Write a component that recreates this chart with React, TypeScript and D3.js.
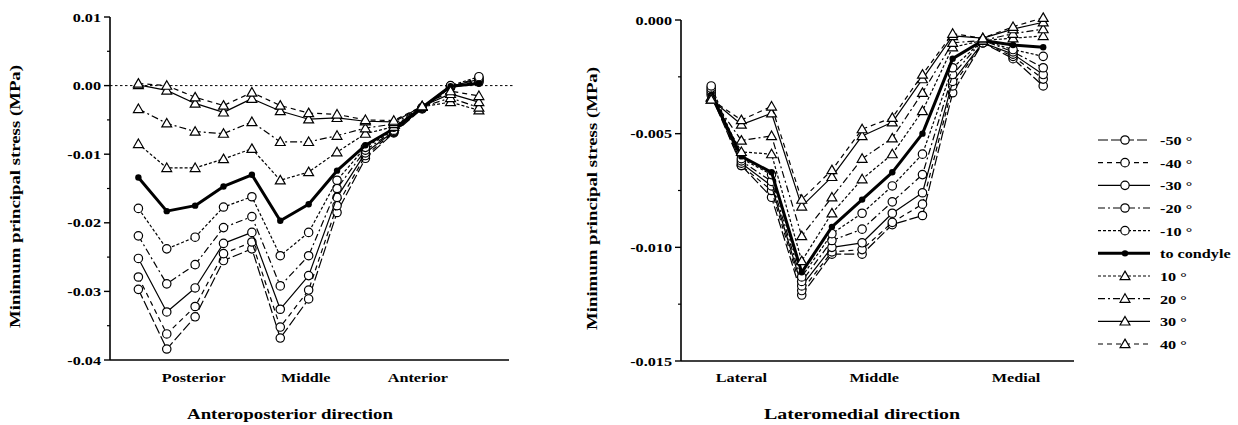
import React from "react";
import * as d3 from "d3";

// ---- data (MPa) ----
const angleKeys = ["-50", "-40", "-30", "-20", "-10", "cond", "10", "20", "30", "40"];
const legendLabels = ["-50 °", "-40 °", "-30 °", "-20 °", "-10 °", "to condyle", "10 °", "20 °", "30 °", "40 °"];

// anteroposterior direction, 13 sample points
const apM50 = [-0.0297, -0.0384, -0.0337, -0.0255, -0.0238, -0.0368, -0.0311, -0.0185, -0.0106, -0.0069, -0.0034, -0.0003, 0.0005];
const apM40 = [-0.0279, -0.0362, -0.0322, -0.0245, -0.0228, -0.0352, -0.0298, -0.0175, -0.0102, -0.0068, -0.0033, -0.0002, 0.0007];
const apM30 = [-0.0252, -0.033, -0.0295, -0.023, -0.0214, -0.0326, -0.0277, -0.0163, -0.0098, -0.0067, -0.0033, -0.0001, 0.0009];
const apM20 = [-0.0219, -0.0289, -0.0261, -0.0207, -0.0191, -0.0292, -0.0248, -0.015, -0.0094, -0.0066, -0.0032, -0.0001, 0.0011];
const apM10 = [-0.0179, -0.0238, -0.0221, -0.0177, -0.0162, -0.0248, -0.0214, -0.0138, -0.009, -0.0065, -0.0032, 0.0, 0.0013];
const apCond = [-0.0134, -0.0183, -0.0175, -0.0147, -0.013, -0.0197, -0.0173, -0.0124, -0.0087, -0.0063, -0.0032, -0.0001, 0.0003];
const apP10 = [-0.0085, -0.012, -0.012, -0.0107, -0.0092, -0.0138, -0.0126, -0.0097, -0.007, -0.006, -0.0031, -0.0024, -0.0036];
const apP20 = [-0.0034, -0.0055, -0.0067, -0.007, -0.0053, -0.0082, -0.0082, -0.0073, -0.0062, -0.0056, -0.0031, -0.0018, -0.0032];
const apP30 = [0.0001, -0.0007, -0.0026, -0.0039, -0.0019, -0.0037, -0.0049, -0.0047, -0.0052, -0.0053, -0.003, -0.0012, -0.0024];
const apP40 = [0.0003, 0.0, -0.0017, -0.0029, -0.001, -0.0029, -0.004, -0.0042, -0.005, -0.0051, -0.003, -0.0008, -0.0015];

// lateromedial direction, 12 sample points
const lmM50 = [-0.0033, -0.0064, -0.0078, -0.0121, -0.0103, -0.0103, -0.009, -0.0086, -0.0032, -0.001, -0.0017, -0.0029];
const lmM40 = [-0.0032, -0.0064, -0.0075, -0.0119, -0.0102, -0.0101, -0.0089, -0.0081, -0.0029, -0.001, -0.0016, -0.0026];
const lmM30 = [-0.0031, -0.0063, -0.0073, -0.0117, -0.01, -0.0098, -0.0085, -0.0076, -0.0027, -0.001, -0.0015, -0.0024];
const lmM20 = [-0.003, -0.0062, -0.0071, -0.0115, -0.0097, -0.0092, -0.008, -0.0068, -0.0024, -0.0009, -0.0014, -0.0021];
const lmM10 = [-0.0029, -0.0061, -0.0068, -0.0113, -0.0094, -0.0085, -0.0073, -0.0059, -0.0021, -0.0009, -0.0013, -0.0016];
const lmCond = [-0.0033, -0.006, -0.0067, -0.0111, -0.0091, -0.0079, -0.0067, -0.005, -0.0017, -0.0009, -0.0011, -0.0012];
const lmP10 = [-0.0034, -0.0058, -0.0059, -0.0106, -0.0085, -0.007, -0.0059, -0.004, -0.0012, -0.0009, -0.0008, -0.0007];
const lmP20 = [-0.0034, -0.0053, -0.0051, -0.0095, -0.0078, -0.0061, -0.0052, -0.0032, -0.001, -0.0009, -0.0006, -0.0004];
const lmP30 = [-0.0035, -0.0046, -0.0041, -0.0082, -0.0069, -0.0051, -0.0045, -0.0026, -0.0007, -0.0008, -0.0004, -0.0001];
const lmP40 = [-0.0035, -0.0044, -0.0038, -0.0079, -0.0066, -0.0048, -0.0043, -0.0024, -0.0006, -0.0008, -0.0003, 0.0001];

const apSeries = [apM50, apM40, apM30, apM20, apM10, apCond, apP10, apP20, apP30, apP40];
const lmSeries = [lmM50, lmM40, lmM30, lmM20, lmM10, lmCond, lmP10, lmP20, lmP30, lmP40];

const apTicks = [0.01, 0, -0.01, -0.02, -0.03, -0.04];
const lmTicks = [0, -0.005, -0.01, -0.015];

// category labels sit at (fractional) sample indices
const apCats = [{ name: "Posterior", at: 1.95 }, { name: "Middle", at: 5.9 }, { name: "Anterior", at: 9.85 }];
const lmCats = [{ name: "Lateral", at: 1.0 }, { name: "Middle", at: 5.4 }, { name: "Medial", at: 10.1 }];

// line style for each series
const styles = {
    "-50": { dash: "10,3", marker: "circle", width: 1.2 },
    "-40": { dash: "5,4", marker: "circle", width: 1.2 },
    "-30": { dash: null, marker: "circle", width: 1.2 },
    "-20": { dash: "7,3,2,3", marker: "circle", width: 1.2 },
    "-10": { dash: "3,2", marker: "circle", width: 1.2 },
    cond: { dash: null, marker: "dot", width: 3 },
    "10": { dash: "3,2", marker: "tri", width: 1.2 },
    "20": { dash: "7,3,2,3", marker: "tri", width: 1.2 },
    "30": { dash: null, marker: "tri", width: 1.2 },
    "40": { dash: "5,4", marker: "tri", width: 1.2 },
};

const FONT = "'Liberation Serif', 'Times New Roman', serif";
const triPath = d3.symbol(d3.symbolTriangle, 42)();

// bold serif text, stretched a little wider like the scanned figure
function Txt(props) {
    const { x, y, anchor = "start", size = 13.5, rotate = 0, len, children } = props;
    if (len) {
        return (
            <text transform={`translate(${x},${y}) rotate(${rotate})`} textAnchor={anchor}
                fontFamily={FONT} fontWeight="bold" fontSize={size}
                textLength={len} lengthAdjust="spacingAndGlyphs">{children}</text>
        );
    }
    return (
        <text transform={`translate(${x},${y}) rotate(${rotate}) scale(1.2,1)`} textAnchor={anchor}
            fontFamily={FONT} fontWeight="bold" fontSize={size}>{children}</text>
    );
}

function Marker(props) {
    const { kind, x, y } = props;
    if (kind === "dot") return <circle cx={x} cy={y} r={3.2} fill="black" />;
    if (kind === "tri") return <path d={triPath} transform={`translate(${x},${y + 0.8})`} fill="white" stroke="black" strokeWidth={1.2} />;
    return <circle cx={x} cy={y} r={4.2} fill="white" stroke="black" strokeWidth={1.2} />;
}

function Panel(props) {
    const { series, x, y, ticks, minor, fmt, cats, title, titleLen, titleX, yLabelX, zeroLine } = props;
    const [x0, x1] = x.range();
    const [yb, yt] = y.range();
    const line = d3.line().x((d, i) => x(i)).y(d => y(d));
    const tf = d3.format(fmt);

    return (
        <g>
            {zeroLine && (
                <line x1={x0} x2={x1 + 6} y1={y(0)} y2={y(0)} stroke="black" strokeWidth={1} strokeDasharray="2.5,2.5" />
            )}

            {/* series */}
            {series.map((vals, si) => {
                const st = styles[angleKeys[si]];
                return (
                    <g key={si}>
                        <path d={line(vals)} fill="none" stroke="black" strokeWidth={st.width}
                            strokeDasharray={st.dash || undefined} strokeLinejoin="round" />
                        {vals.map((v, i) => <Marker key={i} kind={st.marker} x={x(i)} y={y(v)} />)}
                    </g>
                );
            })}

            {/* axes */}
            <line x1={x0} x2={x0} y1={yb} y2={yt} stroke="black" strokeWidth={1.6} />
            <line x1={x0} x2={x1} y1={yb} y2={yb} stroke="black" strokeWidth={1.6} />
            {ticks.map((t, i) => (
                <g key={i}>
                    <line x1={x0 - 6} x2={x0} y1={y(t)} y2={y(t)} stroke="black" strokeWidth={1.4} />
                    <Txt x={x0 - 9} y={y(t) + 4.5} anchor="end">{tf(t).replace("−", "-")}</Txt>
                </g>
            ))}
            {minor.map((t, i) => (
                <line key={i} x1={x0 - 3} x2={x0} y1={y(t)} y2={y(t)} stroke="black" strokeWidth={1.2} />
            ))}

            {cats.map((c, i) => (
                <Txt key={i} x={x(c.at)} y={382} anchor="middle">{c.name}</Txt>
            ))}
            <Txt x={titleX} y={419} anchor="middle" size={15} len={titleLen}>{title}</Txt>
            <Txt x={yLabelX} y={(yb + yt) / 2 + 8} anchor="middle" size={15.5} rotate={-90} len={263}>
                Minimum principal stress (MPa)
            </Txt>
        </g>
    );
}

function Legend() {
    const rowY = d3.scaleLinear().domain([0, 9]).range([140, 344]);
    return (
        <g>
            {angleKeys.map((k, i) => {
                const st = styles[k];
                const yy = rowY(i);
                return (
                    <g key={k}>
                        <line x1={1098} x2={1150} y1={yy} y2={yy} stroke="black" strokeWidth={st.width}
                            strokeDasharray={st.dash || undefined} />
                        <Marker kind={st.marker} x={1125} y={yy} />
                        <Txt x={1160} y={yy + 5}>{legendLabels[i]}</Txt>
                    </g>
                );
            })}
        </g>
    );
}

export default function App() {
    const apX = d3.scaleLinear().domain([-1, 13.06]).range([110, 509]);
    const apY = d3.scaleLinear().domain([-0.04, 0.01]).range([360, 17]);
    const lmX = d3.scaleLinear().domain([-1, 12.02]).range([681, 1074]);
    const lmY = d3.scaleLinear().domain([-0.015, 0]).range([361, 20]);

    return (
        <svg width={1238} height={425} style={{ position: "absolute", left: 0, top: 0, background: "white" }}>
            <Panel series={apSeries} x={apX} y={apY} ticks={apTicks}
                minor={[0.005, -0.005, -0.015, -0.025, -0.035]} fmt=".2f" cats={apCats}
                title="Anteroposterior direction" titleLen={206} titleX={290} yLabelX={20} zeroLine />
            <Panel series={lmSeries} x={lmX} y={lmY} ticks={lmTicks}
                minor={[-0.0025, -0.0075, -0.0125]} fmt=".3f" cats={lmCats}
                title="Lateromedial direction" titleLen={196} titleX={862} yLabelX={597} />
            <Legend />
        </svg>
    );
}
